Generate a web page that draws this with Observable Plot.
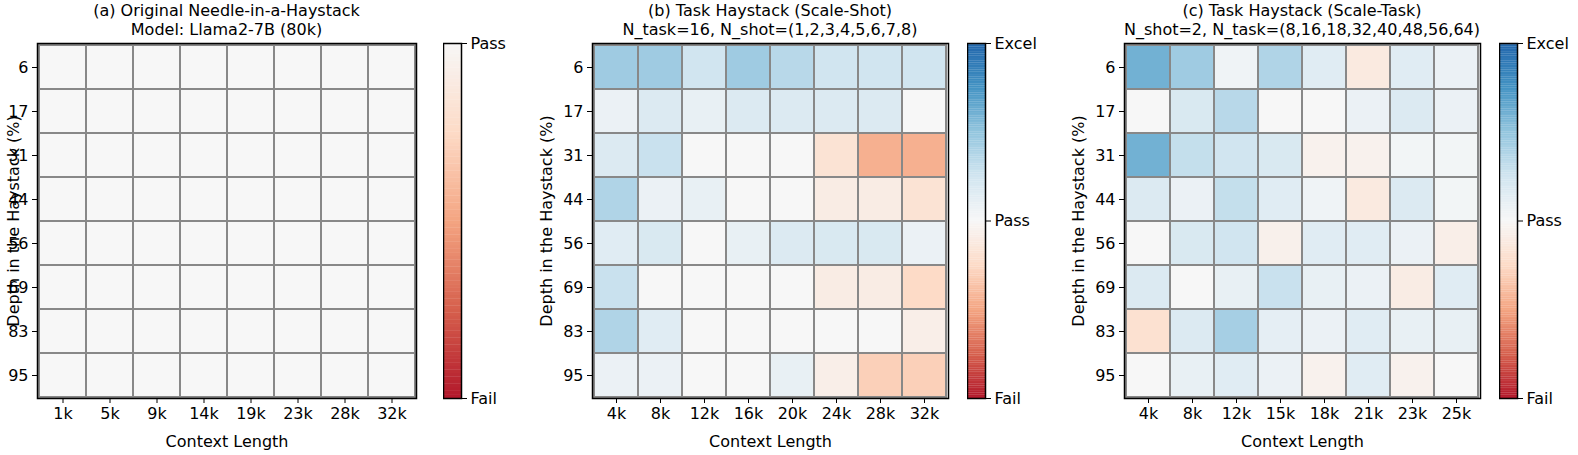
<!DOCTYPE html>
<html><head><meta charset="utf-8">
<script src="https://cdn.jsdelivr.net/npm/d3@7"></script>
<script src="https://cdn.jsdelivr.net/npm/@observablehq/plot@0.6"></script>
<style>
body{margin:0;background:#fff;font-family:"DejaVu Sans",sans-serif;}
#root{position:relative;width:1578px;height:455px;}
.p{position:absolute;top:0;}
.t{position:absolute;font-size:16px;text-align:center;line-height:19px;white-space:nowrap;color:#000;}
</style></head><body><div id="root"></div>
<script>
const depths = [6, 17, 31, 44, 56, 69, 83, 95]
const ctxA = ["1k","5k","9k","14k","19k","23k","28k","32k"]
const ctxB = ["4k","8k","12k","16k","20k","24k","28k","32k"]
const ctxC = ["4k","8k","12k","15k","18k","21k","23k","25k"]
// scores: -1 = Fail, 0 = Pass, 1 = Excel; rows are depths
const scoresA = depths.map(() => ctxA.map(() => 0))
const scoresB = [
  [.45,.45,.25,.45,.35,.25,.25,.25],
  [.08,.18,.1,.18,.18,.18,.18,0],
  [.18,.28,0,0,0,-.18,-.45,-.45],
  [.38,.08,.1,0,0,-.1,-.1,-.18],
  [.15,.2,0,.1,.18,.2,.2,.08],
  [.28,0,0,0,0,-.1,-.1,-.25],
  [.38,.15,0,0,0,0,0,-.08],
  [.08,.08,0,0,.1,-.08,-.3,-.3]
]
const scoresC = [
  [.6,.45,.05,.38,.15,-.12,.15,.08],
  [0,.2,.35,0,0,.08,.18,.08],
  [.6,.3,.25,.2,-.05,-.05,.03,.03],
  [.18,.08,.3,.15,.05,-.12,.18,.03],
  [0,.2,.25,-.06,.15,.15,.08,-.08],
  [.18,0,.1,.28,.1,.08,-.1,.15],
  [-.2,.18,.42,.12,.08,.15,.1,.1],
  [0,.1,.15,.08,-.05,.15,-.05,0]
]
const rdbu = ["#b2182b","#d6604d","#f4a582","#fddbc7","#f7f7f7","#d1e5f0","#92c5de","#4393c3","#2166ac"]
const root = document.getElementById("root")
const color = {type: "linear", domain: [-1, 1], interpolate: d3.piecewise(d3.interpolateRgb, rdbu)}
const font = "DejaVu Sans"

function heat(ctx, scores, left, fw, title, ml, yoff) {
  const data = []
  depths.forEach((d, i) => ctx.forEach((c, j) => data.push({depth: d, ctx: c, v: scores[i][j]})))
  const chart = Plot.plot({
    width: ml + fw + 2, height: 455, marginLeft: ml, marginRight: 2, marginTop: 43, marginBottom: 57,
    style: {fontSize: "16px", fontFamily: font, color: "#000"},
    x: {domain: ctx, padding: 0, label: "Context Length", labelAnchor: "center", labelOffset: 48, tickSize: 5},
    y: {domain: depths, padding: 0, label: "Depth in the Haystack (%)", labelAnchor: "center", labelOffset: yoff, tickSize: 5},
    color,
    marks: [
      Plot.cell(data, {x: "ctx", y: "depth", fill: "v", stroke: "#888", strokeWidth: 2, inset: 0}),
      Plot.frame({stroke: "#000", strokeWidth: 1.5})
    ]
  })
  chart.classList.add("p"); chart.style.left = (left - ml) + "px"
  root.append(chart)
  const t = document.createElement("div"); t.className = "t"
  t.style.left = (left + fw / 2 - 300) + "px"; t.style.width = "600px"; t.style.top = "1px"
  t.innerHTML = title; root.append(t)
}

function bar(left, labels) {
  const hi = labels[0][0], lo = -1
  const steps = d3.range(lo, hi, 0.01)
  const chart = Plot.plot({
    width: 18 + 70, height: 455, marginLeft: 0, marginRight: 70, marginTop: 43, marginBottom: 57,
    style: {fontSize: "16px", fontFamily: font, color: "#000"},
    x: {axis: null, domain: [0, 1]},
    y: {domain: [lo, hi], axis: "right", label: null, tickSize: 5,
        ticks: labels.map(l => l[0]), tickFormat: v => labels.find(l => l[0] === v)[1]},
    color,
    marks: [
      Plot.rect(steps, {x1: 0, x2: 1, y1: d => d, y2: d => Math.min(d + 0.011, hi), fill: d => d + 0.005}),
      Plot.frame({stroke: "#000", strokeWidth: 1.5})
    ]
  })
  chart.classList.add("p"); chart.style.left = left + "px"
  root.append(chart)
}

heat(ctxA, scoresA, 37, 379, "(a) Original Needle-in-a-Haystack<br>Model: Llama2-7B (80k)", 37, 30)
bar(443, [[0, "Pass"], [-1, "Fail"]])
heat(ctxB, scoresB, 592, 356, "(b) Task Haystack (Scale-Shot)<br>N_task=16, N_shot=(1,2,3,4,5,6,7,8)", 60, 52)
bar(967, [[1, "Excel"], [0, "Pass"], [-1, "Fail"]])
heat(ctxC, scoresC, 1124, 356, "(c) Task Haystack (Scale-Task)<br>N_shot=2, N_task=(8,16,18,32,40,48,56,64)", 60, 52)
bar(1499, [[1, "Excel"], [0, "Pass"], [-1, "Fail"]])
</script></body></html>
